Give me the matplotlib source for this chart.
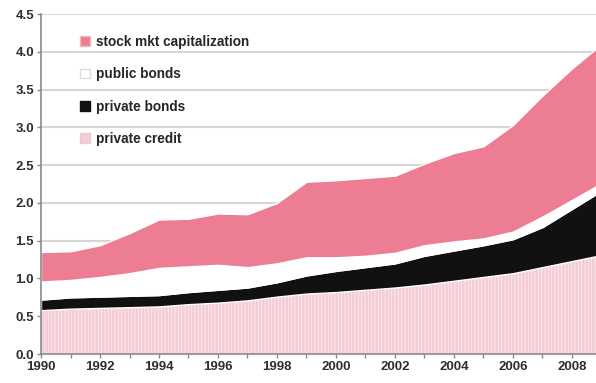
import matplotlib
matplotlib.use("Agg")
import matplotlib.pyplot as plt
import numpy as np
from matplotlib.patches import Patch

years = list(range(1990, 2010))
private_credit = [0.58, 0.60, 0.61, 0.62, 0.63, 0.66, 0.68, 0.71, 0.76, 0.80,
                  0.82, 0.85, 0.88, 0.92, 0.97, 1.02, 1.07, 1.15, 1.23, 1.31]
private_bonds = [0.14, 0.15, 0.15, 0.15, 0.15, 0.16, 0.17, 0.17, 0.19, 0.24,
                 0.28, 0.30, 0.32, 0.38, 0.40, 0.42, 0.45, 0.53, 0.69, 0.85]
public_bonds = [0.24, 0.23, 0.26, 0.30, 0.36, 0.34, 0.33, 0.27, 0.25, 0.24,
                0.18, 0.15, 0.14, 0.14, 0.12, 0.09, 0.10, 0.14, 0.12, 0.10]
stock_mkt_cap = [0.39, 0.38, 0.42, 0.53, 0.64, 0.63, 0.68, 0.70, 0.80, 1.00,
                 1.02, 1.03, 1.02, 1.08, 1.17, 1.22, 1.41, 1.60, 1.74, 1.84]

labels = ["private credit", "private bonds", "public bonds", "stock mkt capitalization"]
colors = ["#f4cdd5", "#111111", "#ffffff", "#ec7d92"]

ytick_vals = [0.0, 0.5, 1.0, 1.5, 2.0, 2.5, 3.0, 3.5, 4.0, 4.5]
xtick_vals = list(range(1990, 2009, 2))

plt.rcParams["font.family"] = ["Liberation Sans", "DejaVu Sans"]
plt.rcParams["hatch.linewidth"] = 0.6

fig = plt.figure(figsize=(5.96, 3.83), dpi=100)
ax = fig.add_axes([0.0688, 0.0757, 0.9404, 0.8877])

polys = ax.stackplot(years, private_credit, private_bonds, public_bonds, stock_mkt_cap,
                     colors=colors, labels=labels, zorder=2)
# vertical pinstripe on the private credit layer
polys[0].set_hatch("|||||")
polys[0].set_edgecolor("#fcecef")
polys[0].set_linewidth(0)
for p in polys[1:]:
    p.set_edgecolor("white")
    p.set_linewidth(1.0)

ax.set_xlim(1990, 2009)
ax.set_ylim(0, 4.5)
ax.set_yticks(ytick_vals)
ax.set_yticklabels([f"{v:.1f}" for v in ytick_vals])
ax.set_xticks(xtick_vals)
ax.set_xticklabels([str(y) for y in xtick_vals])
ax.set_xticks(years, minor=True)

ax.grid(axis="y", color="#d6d6d6", linewidth=1.5, zorder=0)
ax.set_axisbelow(True)

for s in ["top", "right"]:
    ax.spines[s].set_visible(False)
ax.spines["left"].set_color("#8a8a8a")
ax.spines["bottom"].set_color("#8a8a8a")
ax.spines["left"].set_linewidth(1.2)
ax.spines["bottom"].set_linewidth(1.2)

ax.tick_params(axis="both", which="both", direction="out", length=3, width=1,
               color="#8a8a8a", labelsize=9.5, labelcolor="#2e2e2e")
ax.tick_params(axis="x", pad=2)
ax.tick_params(axis="y", pad=2)
for lab in ax.get_xticklabels() + ax.get_yticklabels():
    lab.set_fontweight("bold")

handles = [Patch(facecolor="#ec7d92", edgecolor="#f2b8c2"),
           Patch(facecolor="#ffffff", edgecolor="#dddddd"),
           Patch(facecolor="#111111", edgecolor="#111111"),
           Patch(facecolor="#f4cdd5", edgecolor="#f0c8cf")]
leg = ax.legend(handles, ["stock mkt capitalization", "public bonds", "private bonds", "private credit"],
                loc="upper left", bbox_to_anchor=(0.048, 0.975), frameon=False,
                handlelength=0.7, handleheight=0.7, handletextpad=0.45,
                labelspacing=1.35, prop={"weight": "bold", "size": 9.8})
for t in leg.get_texts():
    t.set_color("#262626")

fig.savefig("out.png", dpi=100)
